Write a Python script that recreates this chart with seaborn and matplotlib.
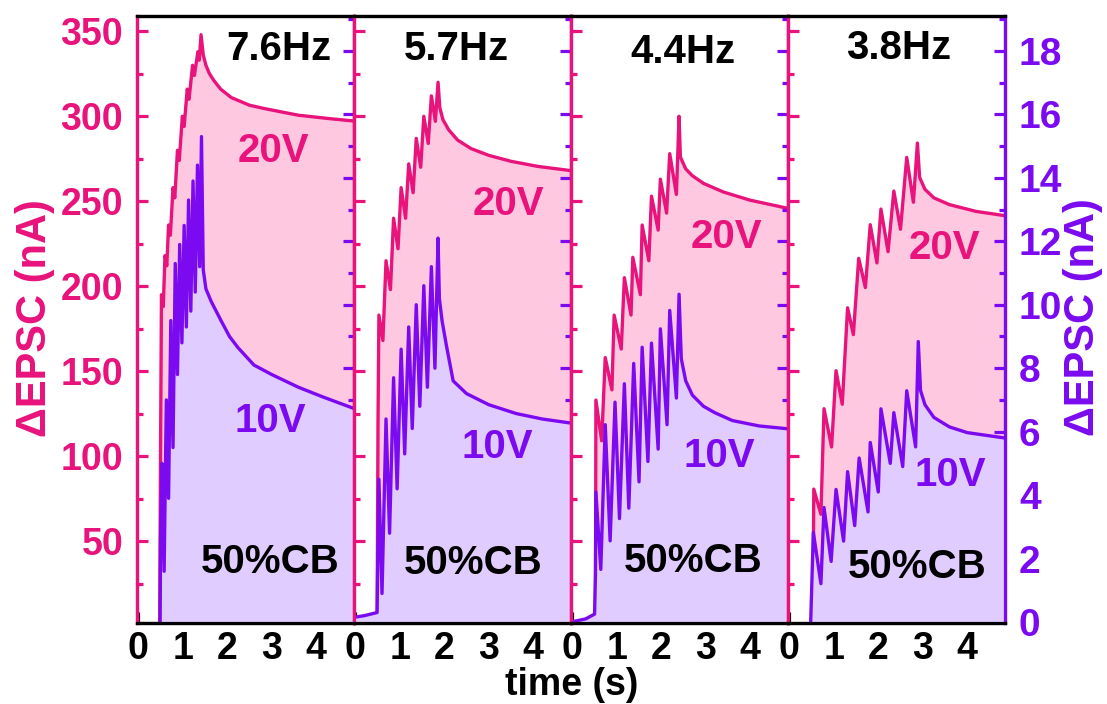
import matplotlib
matplotlib.use("Agg")
import matplotlib.pyplot as plt
import seaborn as sns
from matplotlib.ticker import MultipleLocator

# ---------------- data ----------------
freq_labels = ["7.6Hz", "5.7Hz", "4.4Hz", "3.8Hz"]

# panel 1 : 7.6 Hz
t20_a = [0.48, 0.50, 0.52, 0.56, 0.60, 0.64, 0.68, 0.72, 0.78, 0.82, 0.88, 0.92, 0.99, 1.03, 1.10, 1.14,
         1.22, 1.26, 1.34, 1.37, 1.41, 1.46, 1.52, 1.60, 1.70, 1.85, 2.09, 2.5, 2.84, 3.6, 4.3, 4.85]
v20_a = [0, 105, 195, 188, 218, 212, 236, 230, 258, 252, 280, 274, 300, 294, 316, 310,
         330, 324, 338, 333, 348, 336, 330, 325, 321, 316, 311, 306.5, 304.5, 300.6, 298.6, 297.2]
t10_a = [0.49, 0.50, 0.53, 0.58, 0.63, 0.68, 0.73, 0.78, 0.83, 0.88, 0.93, 0.98, 1.03, 1.08, 1.13, 1.18,
         1.23, 1.28, 1.33, 1.38, 1.42, 1.46, 1.52, 1.64, 1.86, 2.05, 2.24, 2.6, 3.0, 3.6, 4.14, 4.85]
v10_a = [0.0, 2.6, 5.0, 1.6, 7.0, 3.9, 9.5, 5.5, 11.3, 7.8, 11.9, 8.8, 12.5, 9.3, 13.3, 9.8,
         13.9, 10.4, 14.4, 11.2, 15.3, 11.1, 10.5, 10.1, 9.5, 9.0, 8.65, 8.1, 7.8, 7.4, 7.1, 6.73]

# panel 2 : 5.7 Hz
t20_b = [0.49, 0.51, 0.53, 0.62, 0.69, 0.79, 0.86, 0.96, 1.03, 1.13, 1.20, 1.30, 1.37, 1.47,
         1.54, 1.64, 1.71, 1.80, 1.86, 1.90, 1.97, 2.1, 2.3, 2.6, 3.0, 3.5, 4.1, 4.85]
v20_b = [0, 120, 183, 168, 215, 198, 240, 222, 258, 240, 272, 255, 287, 270,
         300, 284, 312, 297, 320, 305, 298, 292, 286, 281, 277, 273.5, 270.5, 268]
t10_b = [-0.03, 0.2, 0.49, 0.50, 0.53, 0.60, 0.69, 0.77, 0.86, 0.94, 1.03, 1.11, 1.20, 1.28, 1.37,
         1.45, 1.54, 1.62, 1.71, 1.79, 1.86, 1.89, 1.95, 2.05, 2.2, 2.5, 3.0, 3.62, 4.2, 4.85]
v10_b = [0.15, 0.2, 0.3, 1.5, 4.5, 0.9, 6.4, 2.8, 7.7, 4.2, 8.6, 5.3, 9.3, 6.1, 10.0,
         6.8, 10.6, 7.4, 11.2, 8.0, 12.1, 10.2, 9.5, 8.7, 7.6, 7.2, 6.85, 6.57, 6.4, 6.27]

# panel 3 : 4.4 Hz
t20_c = [0.52, 0.53, 0.66, 0.74, 0.89, 0.94, 1.10, 1.17, 1.32, 1.36, 1.53, 1.57, 1.72, 1.78,
         1.93, 1.98, 2.12, 2.19, 2.34, 2.40, 2.43, 2.55, 2.7, 2.95, 3.4, 4.0, 4.85]
v20_c = [0, 133, 109, 158, 139, 183, 163, 205, 183, 217, 195, 236, 215, 253,
         233, 263, 243, 278, 254, 300, 276, 269, 265, 260.5, 255.4, 250.6, 245.8]
t10_c = [-0.03, 0.3, 0.50, 0.52, 0.53, 0.64, 0.74, 0.85, 0.96, 1.06, 1.17, 1.27, 1.38, 1.50, 1.57, 1.70,
         1.78, 1.93, 1.98, 2.13, 2.19, 2.34, 2.40, 2.45, 2.55, 2.7, 2.95, 3.2, 3.6, 4.2, 4.85]
v10_c = [0.0, 0.1, 0.25, 1.5, 4.1, 1.66, 6.22, 2.56, 6.93, 3.26, 7.51, 3.59, 8.15, 4.42, 8.66, 5.06,
         8.79, 5.45, 9.24, 6.22, 9.82, 7.06, 10.33, 8.3, 7.6, 7.15, 6.8, 6.6, 6.35, 6.18, 6.09]

# panel 4 : 3.8 Hz
t20_d = [0.53, 0.55, 0.71, 0.78, 0.95, 1.05, 1.19, 1.31, 1.44, 1.56, 1.71, 1.82, 1.97,
         2.06, 2.22, 2.35, 2.50, 2.64, 2.79, 2.88, 2.93, 3.05, 3.25, 3.6, 4.2, 4.85]
v20_d = [0, 80.6, 65.8, 127.9, 105.4, 150.3, 130.5, 187.3, 171.5, 216.4, 199.2, 236.2, 213.7,
         245.4, 220.3, 256, 233.5, 275.8, 249.4, 284.2, 264, 257, 252, 248, 244, 241.5]
t10_d = [0.48, 0.54, 0.71, 0.78, 0.94, 1.05, 1.22, 1.31, 1.47, 1.57, 1.77, 1.82, 2.00,
         2.06, 2.27, 2.35, 2.55, 2.64, 2.84, 2.90, 2.95, 3.05, 3.25, 3.6, 4.0, 4.85]
v10_d = [0, 2.83, 1.21, 3.61, 1.91, 4.18, 2.55, 4.74, 3.04, 5.17, 3.47, 5.66, 4.10,
         6.72, 5.0, 6.6, 4.9, 7.29, 5.52, 8.84, 7.3, 6.85, 6.45, 6.15, 5.97, 5.80]

series_20 = [(t20_a, v20_a), (t20_b, v20_b), (t20_c, v20_c), (t20_d, v20_d)]
series_10 = [(t10_a, v10_a), (t10_b, v10_b), (t10_c, v10_c), (t10_d, v10_d)]

# text positions (axes fraction): freq, 20V, 10V, 50%CB
txt_pos = [
    [(0.654, 0.946), (0.631, 0.778), (0.613, 0.333), (0.613, 0.100)],
    [(0.47, 0.946), (0.71, 0.69), (0.66, 0.29), (0.548, 0.099)],
    [(0.514, 0.94), (0.716, 0.636), (0.683, 0.275), (0.564, 0.102)],
    [(0.51, 0.947), (0.72, 0.618), (0.75, 0.244), (0.594, 0.092)],
]

# ---------------- style ----------------
sns.set_theme(style="white")
plt.rcParams["font.family"] = ["Liberation Sans", "DejaVu Sans"]
plt.rcParams["font.weight"] = "bold"
plt.rcParams["axes.labelweight"] = "bold"

PINK = "#E8137B"
PURPLE = "#7B0AF0"
PINK_FILL = "#FFC8E1"
PURPLE_FILL = "#E1CCFF"
LW = 2.4
SPW = 2.3

W, H = 1107, 704
fig = plt.figure(figsize=(W / 100, H / 100), dpi=100)
x_left, x_right, y_top, y_bot = 137, 1005, 16, 623
pw = (x_right - x_left) / 4

for i in range(4):
    ax = fig.add_axes([(x_left + i * pw) / W, (H - y_bot) / H, pw / W, (y_bot - y_top) / H])
    ax2 = ax.twinx()
    t20, v20 = series_20[i]
    t10, v10 = series_10[i]

    ax.fill_between(t20, v20, 0, color=PINK_FILL, lw=0)
    sns.lineplot(x=t20, y=v20, ax=ax, color=PINK, lw=LW, sort=False, estimator=None)
    ax2.fill_between(t10, v10, 0, color=PURPLE_FILL, lw=0)
    sns.lineplot(x=t10, y=v10, ax=ax2, color=PURPLE, lw=LW, sort=False, estimator=None)

    ax.set_xlim(-0.03, 4.85)
    ax.set_ylim(1.8, 359)
    ax2.set_ylim(-0.03, 19.1)
    ax.set_xlabel("")
    ax.set_ylabel("")
    ax2.set_ylabel("")

    ax.xaxis.set_major_locator(MultipleLocator(1))
    ax.xaxis.set_minor_locator(MultipleLocator(0.5))
    ax.yaxis.set_major_locator(MultipleLocator(50))
    ax.yaxis.set_minor_locator(MultipleLocator(25))
    ax2.yaxis.set_major_locator(MultipleLocator(2))
    ax2.yaxis.set_minor_locator(MultipleLocator(1))

    ax.tick_params(axis="x", which="both", direction="in", colors="black", bottom=True,
                   top=False, width=SPW, labelsize=27, pad=6)
    ax.tick_params(axis="x", which="major", length=8)
    ax.tick_params(axis="x", which="minor", length=4)
    ax.tick_params(axis="y", which="both", direction="in", colors=PINK, left=True,
                   right=False, width=SPW, labelsize=27, pad=10, labelleft=(i == 0))
    ax.tick_params(axis="y", which="major", length=8)
    ax.tick_params(axis="y", which="minor", length=4)
    ax2.tick_params(axis="y", which="both", direction="in", colors=PURPLE, right=True,
                    left=False, width=SPW, labelsize=28, pad=10, labelright=(i == 3))
    ax2.tick_params(axis="y", which="major", length=8)
    ax2.tick_params(axis="y", which="minor", length=4)

    for a in (ax, ax2):
        for s in a.spines.values():
            s.set_linewidth(SPW)
        a.spines["top"].set_color("black")
        a.spines["bottom"].set_color("black")
        a.spines["left"].set_color(PINK)
        a.spines["right"].set_color(PURPLE if i == 3 else PINK)
        a.grid(False)

    (fx, fy), (ax20, ay20), (ax10, ay10), (acb, ycb) = txt_pos[i]
    ax2.text(fx, fy, freq_labels[i], transform=ax2.transAxes, ha="center", va="center",
             fontsize=29, fontweight="bold", color="black")
    ax2.text(ax20, ay20, "20V", transform=ax2.transAxes, ha="center", va="center",
             fontsize=29, fontweight="bold", color=PINK)
    ax2.text(ax10, ay10, "10V", transform=ax2.transAxes, ha="center", va="center",
             fontsize=29, fontweight="bold", color=PURPLE)
    ax2.text(acb, ycb, "50%CB", transform=ax2.transAxes, ha="center", va="center",
             fontsize=29, fontweight="bold", color="black")

fig.text(35 / W, 1 - 318 / H, "ΔEPSC (nA)", rotation=90, ha="center", va="center",
         fontsize=30, fontweight="bold", color=PINK)
fig.text(1083 / W, 1 - 317 / H, "ΔEPSC (nA)", rotation=90, ha="center", va="center",
         fontsize=30, fontweight="bold", color=PURPLE)
fig.text(572 / W, 1 / H, "time (s)", ha="center", va="bottom",
         fontsize=27, fontweight="bold", color="black")

fig.savefig("out.png", dpi=100)
